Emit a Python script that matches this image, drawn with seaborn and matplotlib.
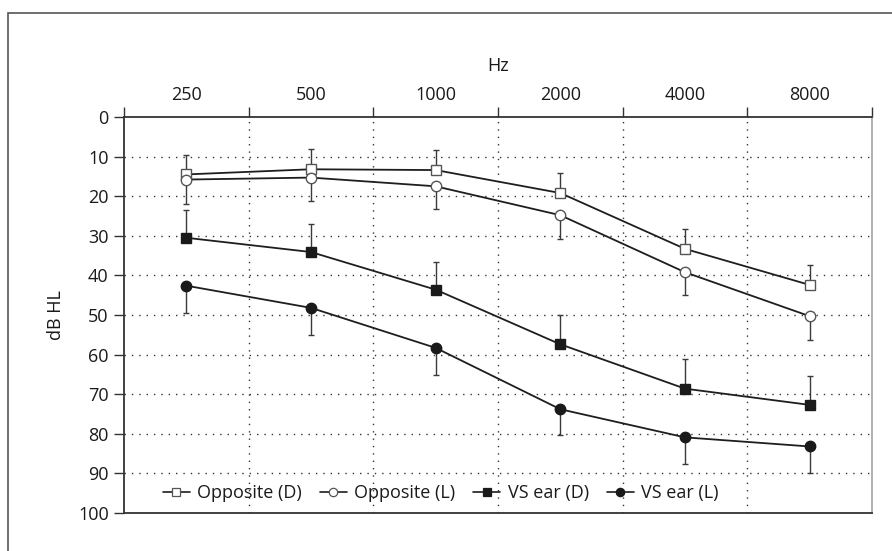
import numpy as np
import pandas as pd
import matplotlib
matplotlib.use("Agg")
import matplotlib.pyplot as plt
import matplotlib.patches as mpatches
from matplotlib.lines import Line2D
import seaborn as sns

sns.set_theme(style="white")
plt.rcParams['font.family'] = ['Open Sans', 'DejaVu Sans']

# ---- data ----
freqs = ['250', '500', '1000', '2000', '4000', '8000']
opp_d = [14.5, 13.2, 13.4, 19.2, 33.3, 42.4]
opp_d_err = [4.9, 5.1, 5.1, 5.0, 5.0, 5.0]
opp_l = [15.8, 15.3, 17.5, 24.8, 39.2, 50.3]
opp_l_err = [6.2, 6.0, 5.8, 6.0, 5.8, 5.9]
vs_d = [30.5, 34.1, 43.6, 57.4, 68.6, 72.7]
vs_d_err = [7.1, 7.0, 7.1, 7.5, 7.4, 7.4]
vs_l = [42.6, 48.2, 58.3, 73.8, 80.9, 83.2]
vs_l_err = [7.0, 6.8, 6.9, 6.5, 6.7, 6.8]
series_names = ['Opposite (D)', 'Opposite (L)', 'VS ear (D)', 'VS ear (L)']
y_ticks = [0, 10, 20, 30, 40, 50, 60, 70, 80, 90, 100]

FS = 13
fig = plt.figure(figsize=(8.92, 5.51), dpi=100)
ax = fig.add_axes([124/892, 1-513/551, (872-124)/892, (513-117)/551])

xpos = np.arange(len(freqs))
line_col = '#1e1e1e'
err_col = '#3a3a3a'

specs = [
    (opp_d, opp_d_err, 's', 'white', '#555555', 'up'),
    (opp_l, opp_l_err, 'o', 'white', '#555555', 'down'),
    (vs_d, vs_d_err, 's', '#1a1a1a', '#1a1a1a', 'up'),
    (vs_l, vs_l_err, 'o', '#1a1a1a', '#1a1a1a', 'down'),
]

handles = []
for name, (vals, errs, mk, fc, ec, direction) in zip(series_names, specs):
    vals = np.array(vals)
    errs = np.array(errs)
    if direction == 'up':
        yerr = [errs, np.zeros_like(errs)]
    else:
        yerr = [np.zeros_like(errs), errs]
    ax.errorbar(xpos, vals, yerr=yerr, fmt='none', ecolor=err_col,
                elinewidth=1.0, capsize=2.5, capthick=1.0, zorder=2)
    df = pd.DataFrame({'x': xpos, 'y': vals})
    sns.lineplot(data=df, x='x', y='y', ax=ax, color=line_col, lw=1.3,
                 marker=mk, markersize=7.5 if mk == 'o' else 7.2,
                 markerfacecolor=fc, markeredgecolor=ec, markeredgewidth=1.0,
                 zorder=3, legend=False)
    handles.append(Line2D([0], [0], color=line_col, lw=1.2, marker=mk,
                          markersize=6, markerfacecolor=fc,
                          markeredgecolor=ec, markeredgewidth=0.9))

ax.set_xlim(-0.5, 5.5)
ax.set_ylim(100, 0)

# grid
ax.set_yticks(y_ticks)
ax.set_yticklabels([str(v) for v in y_ticks], fontsize=FS, color='#1a1a1a')
for v in y_ticks[1:-1]:
    ax.axhline(v, color='#333333', lw=1.0, ls=(0, (1, 4.3)), zorder=1)
for b in np.arange(0.5, 5.0, 1.0):
    ax.axvline(b, color='#333333', lw=1.0, ls=(0, (1, 4.3)), zorder=1)
ax.grid(False)

# x ticks on top
ax.xaxis.tick_top()
ax.set_xticks(np.arange(-0.5, 6.0, 1.0))
ax.set_xticklabels([])
ax.set_xticks(xpos, minor=True)
ax.set_xticklabels(freqs, minor=True, fontsize=FS, color='#1a1a1a')
ax.tick_params(axis='x', which='major', length=7, width=1.0, color='#333333',
               direction='out', top=True, bottom=False)
ax.tick_params(axis='x', which='minor', length=0, pad=9, top=True, bottom=False)
ax.tick_params(axis='y', which='major', length=7, width=1.0, color='#333333',
               direction='out', left=True, pad=4)
ax.xaxis.set_label_position('top')
ax.set_xlabel('Hz', fontsize=FS, labelpad=11, color='#1a1a1a')
ax.set_ylabel('dB HL', fontsize=FS, labelpad=9, color='#1a1a1a')

for s in ['left', 'top', 'bottom']:
    ax.spines[s].set_color('#333333')
    ax.spines[s].set_linewidth(1.3)
ax.spines['right'].set_color('#aaaaaa')
ax.spines['right'].set_linewidth(1.3)

leg = ax.legend(handles, series_names, loc='lower left', bbox_to_anchor=(0.035, -0.005),
                ncol=4, frameon=False, fontsize=FS, handlelength=1.5,
                handletextpad=0.4, columnspacing=1.0, borderaxespad=0.3)
for t in leg.get_texts():
    t.set_color('#1a1a1a')

# figure border
rect = mpatches.Rectangle((8/892, -0.2), 1.5, 1 - 13/551 + 0.2, transform=fig.transFigure,
                          fill=False, edgecolor='#555555', lw=1.2)
fig.patches.append(rect)

fig.savefig('out.png', dpi=100)
